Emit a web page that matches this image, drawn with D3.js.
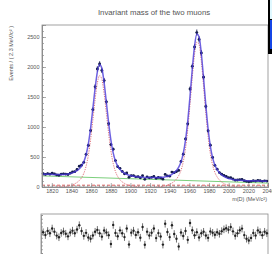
<!DOCTYPE html>
<html>
<head>
<meta charset="utf-8">
<script src="https://cdn.jsdelivr.net/npm/d3@7"></script>
<style>
  body { margin: 0; background: #fff; }
  svg { display: block; font-family: "Liberation Sans", Arial, sans-serif; }
</style>
</head>
<body>
<svg id="canvas" width="272" height="254"></svg>
<script>
// histogram: 100 bins of 2.3 MeV from 1810 to 2040
const binLow = 1810
const binWidth = 2.3

const counts = [221,209,224,214,232,218,202,196,213,220,
    213,208,231,250,255,292,346,364,411,544,
    694,941,1291,1669,1968,2050,1943,1774,1419,1054,
    707,630,440,338,311,260,219,233,162,191,
    190,169,174,153,188,128,167,153,162,176,
    144,160,152,131,209,185,181,248,239,257,
    277,426,547,802,1053,1634,2011,2333,2574,2459,
    2234,1831,1342,936,697,493,361,297,240,214,
    193,176,156,155,133,113,117,123,126,105,
    94,89,94,106,98,110,104,95,103,98]

// total fit, at the bin centres
const fitTotal = [214,213,212,211,210,209,208,208,209,210,
    212,217,225,236,252,272,303,349,421,537,
    718,979,1305,1645,1920,2041,1974,1736,1404,1064,
    777,570,434,349,294,257,231,211,197,186,
    178,172,168,165,163,160,159,158,158,157,
    157,157,160,163,170,178,192,212,239,277,
    332,418,559,780,1103,1517,1967,2348,2549,2504,
    2225,1806,1357,967,679,486,365,289,239,203,
    176,156,142,132,125,118,115,112,110,108,
    106,105,104,103,102,100,99,98,97,96]

// signal components (first bin index, values)
const sig1Start = 6
const sig1 = [1,2,4,6,10,16,25,37,54,76,108,155,228,345,528,790,1117,1458,1734,1857,
    1791,1554,1223,884,599,393,258,174,120,85,60,41,28,18,12,7,4,2]
const sig2Start = 49
const sig2 = [1,2,4,8,12,20,30,45,66,94,133,190,277,419,641,965,1381,1832,2214,2416,
    2372,2095,1677,1229,840,553,362,242,167,118,83,58,39,26,17,11,6,4,2,1]

// background components, end points
const bgLinear = [[1810, 185], [2040, 65]]
const bgFlat = [[1810, 30], [2040, 30]]

const xTicks = [1820,1840,1860,1880,1900,1920,1940,1960,1980,2000,2020,2040]
const yTicks = [0,500,1000,1500,2000,2500]

const COLORS = {
    text: "#555",
    axis: "#8a8a8a",
    data: "#151c4e",
    fit: "#4a3ad8",
    green: "#7ccf7c",
    red: "#e05a5a",
    signal: "#e0707a"
}

const svg = d3.select("#canvas")

const binCentre = i => binLow + binWidth * (i + 0.5)

const xScale = d3.scaleLinear().domain([1810, 2040]).range([42, 268])
const yScale = d3.scaleLinear().domain([0, 2700]).range([187, 25])
const pullScale = d3.scaleLinear().domain([-5, 5]).range([253, 215])

// title
svg.append("text")
    .attr("x", 154).attr("y", 15)
    .attr("text-anchor", "middle")
    .attr("font-size", 7.8)
    .attr("fill", COLORS.text)
    .text("Invariant mass of the two muons")

// main frame
svg.append("rect")
    .attr("x", 42).attr("y", 25)
    .attr("width", 226).attr("height", 162)
    .attr("fill", "none")
    .attr("stroke", COLORS.axis)
    .attr("stroke-width", 0.8)

const line = d3.line()
    .x(d => xScale(d[0]))
    .y(d => yScale(d[1]))

// backgrounds
svg.append("path")
    .attr("d", line(bgLinear))
    .attr("fill", "none")
    .attr("stroke", COLORS.green)
    .attr("stroke-width", 1)

svg.append("path")
    .attr("d", line(bgFlat))
    .attr("fill", "none")
    .attr("stroke", COLORS.red)
    .attr("stroke-width", 1)
    .attr("stroke-dasharray", "3,2")

// signals
const smooth = d3.line()
    .x(d => xScale(d[0]))
    .y(d => yScale(d[1]))
    .curve(d3.curveMonotoneX)

;[[sig1Start, sig1], [sig2Start, sig2]].forEach(([start, vals]) => {
    svg.append("path")
        .attr("d", smooth(vals.map((v, k) => [binCentre(start + k), v])))
        .attr("fill", "none")
        .attr("stroke", COLORS.signal)
        .attr("stroke-width", 1)
        .attr("stroke-dasharray", "1.2,1.2")
})

// data points with errors
const pts = counts.map((c, i) => ({ x: binCentre(i), c: c, e: Math.sqrt(c) }))

const g = svg.append("g")
g.selectAll(".ebar")
    .data(pts)
    .enter()
    .append("line")
    .attr("x1", d => xScale(d.x)).attr("x2", d => xScale(d.x))
    .attr("y1", d => yScale(d.c - d.e)).attr("y2", d => yScale(d.c + d.e))
    .attr("stroke", COLORS.data)
    .attr("stroke-width", 0.9)
g.selectAll(".hbar")
    .data(pts)
    .enter()
    .append("line")
    .attr("x1", d => xScale(d.x - binWidth / 2)).attr("x2", d => xScale(d.x + binWidth / 2))
    .attr("y1", d => yScale(d.c)).attr("y2", d => yScale(d.c))
    .attr("stroke", COLORS.data)
    .attr("stroke-width", 0.9)
g.selectAll("circle")
    .data(pts)
    .enter()
    .append("circle")
    .attr("cx", d => xScale(d.x))
    .attr("cy", d => yScale(d.c))
    .attr("r", 1.4)
    .attr("fill", COLORS.data)

// total fit
svg.append("path")
    .attr("d", smooth(fitTotal.map((v, i) => [binCentre(i), v])))
    .attr("fill", "none")
    .attr("stroke", COLORS.fit)
    .attr("stroke-width", 1.5)
    .attr("stroke-opacity", 0.8)

// axes
const styleAxis = sel => {
    sel.select(".domain").attr("stroke", COLORS.axis).attr("stroke-width", 0.8)
    sel.selectAll(".tick line").attr("stroke", COLORS.axis).attr("stroke-width", 0.7)
    sel.selectAll("text").attr("fill", COLORS.text).attr("font-size", 5.5)
        .attr("font-family", "Liberation Sans, Arial, sans-serif")
}

svg.append("g")
    .attr("transform", "translate(0,187)")
    .call(d3.axisBottom(xScale).tickValues(d3.range(1812, 2040, 4)).tickSize(-2).tickFormat(""))
    .call(styleAxis)
svg.append("g")
    .attr("transform", "translate(0,187)")
    .call(d3.axisBottom(xScale).tickValues(xTicks).tickSize(-4).tickPadding(2.5).tickFormat(d3.format("d")))
    .call(styleAxis)

svg.append("g")
    .attr("transform", "translate(42,0)")
    .call(d3.axisLeft(yScale).tickValues(d3.range(0, 2701, 100)).tickSize(-2).tickFormat(""))
    .call(styleAxis)
svg.append("g")
    .attr("transform", "translate(42,0)")
    .call(d3.axisLeft(yScale).tickValues(yTicks).tickSize(-4).tickPadding(2.5).tickFormat(d3.format("d")))
    .call(styleAxis)

// axis titles
svg.append("text")
    .attr("transform", "translate(13,26) rotate(-90)")
    .attr("text-anchor", "end")
    .attr("font-size", 5.5)
    .attr("fill", COLORS.text)
    .text("Events / ( 2.3 MeV/c\u00b2 )")

svg.append("text")
    .attr("x", 267).attr("y", 201)
    .attr("text-anchor", "end")
    .attr("font-size", 5.5)
    .attr("fill", COLORS.text)
    .text("m(D) (MeV/c\u00b2)")

// pull panel
svg.append("rect")
    .attr("x", 41).attr("y", 214)
    .attr("width", 227).attr("height", 50)
    .attr("fill", "none")
    .attr("stroke", COLORS.axis)
    .attr("stroke-width", 0.8)

svg.append("g")
    .attr("transform", "translate(41,0)")
    .call(d3.axisLeft(pullScale).tickValues(d3.range(-5, 5.1, 1)).tickSize(-2).tickFormat(""))
    .call(styleAxis)

const pulls = counts.map((c, i) => ({ x: binCentre(i), p: (c - fitTotal[i]) / Math.sqrt(c) }))

const pg = svg.append("g")
pg.selectAll("line")
    .data(pulls)
    .enter()
    .append("line")
    .attr("x1", d => xScale(d.x)).attr("x2", d => xScale(d.x))
    .attr("y1", d => pullScale(d.p - 1)).attr("y2", d => pullScale(d.p + 1))
    .attr("stroke", "#333")
    .attr("stroke-width", 0.7)
pg.selectAll("circle")
    .data(pulls)
    .enter()
    .append("circle")
    .attr("cx", d => xScale(d.x))
    .attr("cy", d => pullScale(d.p))
    .attr("r", 1.2)
    .attr("fill", "#222")

// box at the top right corner
svg.append("rect").attr("x", 268).attr("y", 0).attr("width", 4).attr("height", 54).attr("fill", "#000")
svg.append("rect").attr("x", 270).attr("y", 0).attr("width", 2).attr("height", 19).attr("fill", "#dff8ff")
svg.append("rect").attr("x", 270).attr("y", 20).attr("width", 2).attr("height", 29).attr("fill", "#1546e6")
</script>
</body>
</html>
